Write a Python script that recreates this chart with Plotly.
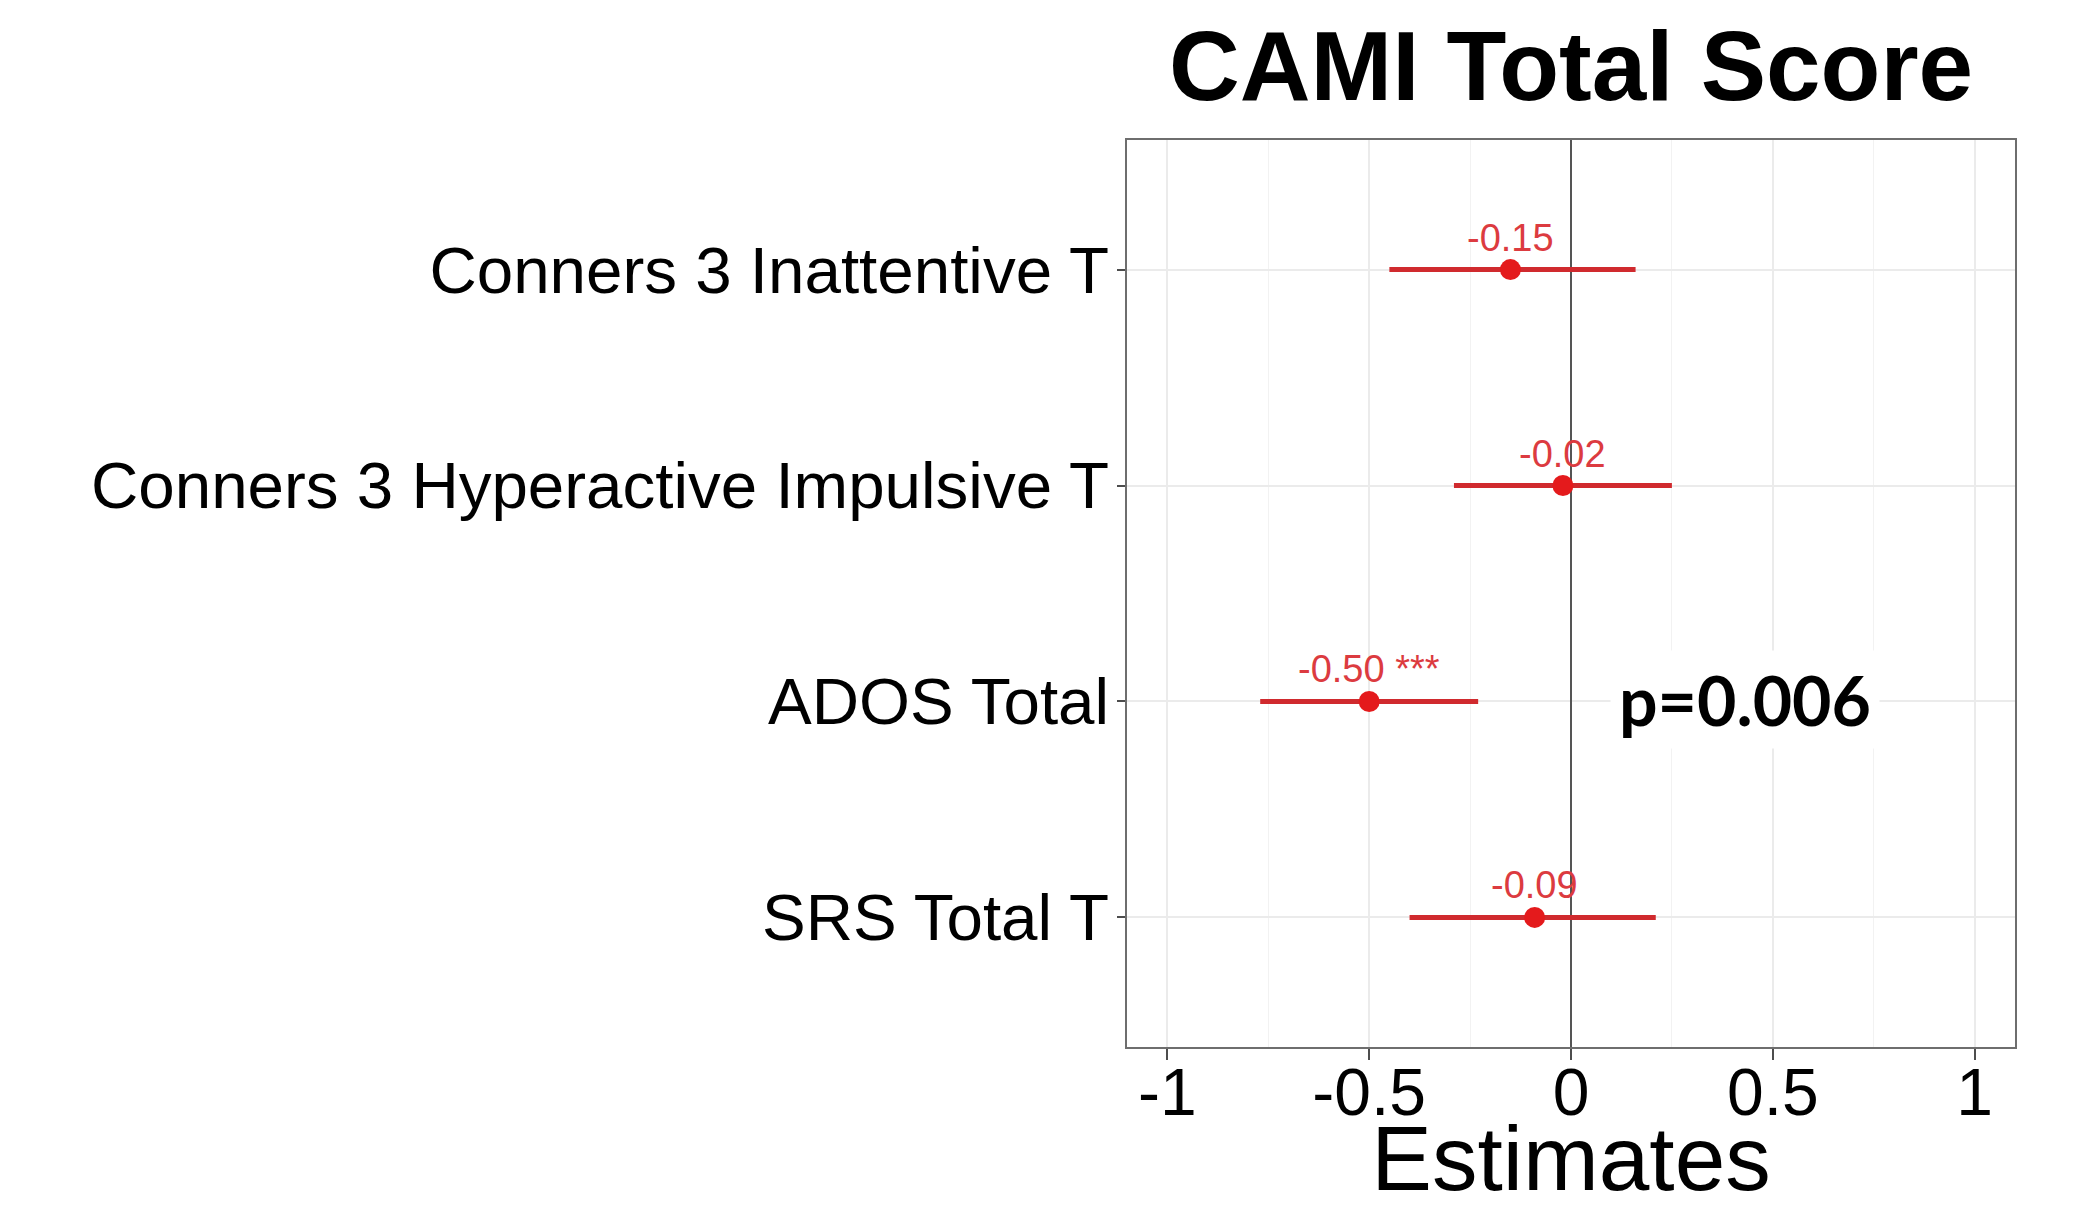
import plotly.graph_objects as go

# ---- data ----
categories = ["SRS Total T", "ADOS Total", "Conners 3 Hyperactive Impulsive T", "Conners 3 Inattentive T"]
estimates = [-0.09, -0.50, -0.02, -0.15]
ci_low = [-0.40, -0.77, -0.29, -0.45]
ci_high = [0.21, -0.23, 0.25, 0.16]
stars = ["", " ***", "", ""]
x_tickvals = [-1, -0.5, 0, 0.5, 1]
x_ticktext = ["-1", "-0.5", "0", "0.5", "1"]
title_text = "CAMI Total Score"
x_title = "Estimates"
p_text = "p=0.006"
p_category = "ADOS Total"
p_x = 0.43

# page body has an 8px margin; compensate so the plot lands where the reference has it
OFF = 8
W, H = 2084 - OFF, 1209 - OFF
RED_POINT = "#E41A1C"
RED_BAR = "#D02A2E"
RED_TEXT = "#DC3B40"
FONT = "Liberation Sans, Arial, Helvetica, sans-serif"

err_plus = [h - e for h, e in zip(ci_high, estimates)]
err_minus = [e - l for e, l in zip(estimates, ci_low)]

fig = go.Figure()
fig.add_trace(go.Scatter(
    x=estimates, y=categories, mode="markers",
    marker=dict(color=RED_POINT, size=21, line=dict(width=0)),
    error_x=dict(type="data", symmetric=False, array=err_plus, arrayminus=err_minus,
                 color=RED_BAR, thickness=5, width=0),
    showlegend=False, hoverinfo="x+y",
))

annotations = []
for cat, est, st in zip(categories, estimates, stars):
    annotations.append(dict(
        x=est, y=cat, xref="x", yref="y", text=f"{est:.2f}{st}", showarrow=False,
        yshift=32, font=dict(family=FONT, size=38, color=RED_TEXT),
        xanchor="center", yanchor="middle",
    ))
annotations.append(dict(
    x=p_x, y=p_category, xref="x", yref="y", text=p_text, showarrow=False,
    font=dict(family="Lato, Carlito, Noto Sans, sans-serif", size=68, color="black", weight=700),
    bgcolor="white", borderpad=8, xanchor="center", yanchor="middle", yshift=2,
))

fig.update_layout(
    width=W, height=H,
    margin=dict(l=1127 - OFF, r=69, t=140 - OFF, b=162, autoexpand=False),
    paper_bgcolor="white", plot_bgcolor="white",
    title=dict(text=title_text, x=0.5, xref="paper", y=1 - (66 - OFF) / H, yref="container",
               xanchor="center", yanchor="middle",
               font=dict(family=FONT, size=98, color="black", weight=700)),
    annotations=annotations,
    showlegend=False,
)

fig.update_xaxes(
    range=[-1.1, 1.1], automargin=False,
    tickmode="array", tickvals=x_tickvals, ticktext=x_ticktext,
    showgrid=True, gridcolor="#EBEBEB", gridwidth=1.5,
    minor=dict(dtick=0.25, tick0=0, showgrid=True, gridcolor="#F2F2F2", gridwidth=1.2, ticks=""),
    zeroline=True, zerolinecolor="#555555", zerolinewidth=1.8,
    showline=True, mirror=True, linecolor="#6E6E6E", linewidth=1.6,
    ticks="outside", ticklen=11, tickwidth=1.6, tickcolor="#4D4D4D",
    ticklabelstandoff=-24,
    tickfont=dict(family=FONT, size=66, color="black"),
    title=dict(text=x_title, font=dict(family=FONT, size=91, color="black"), standoff=24),
)
fig.update_yaxes(
    type="category", categoryorder="array", categoryarray=categories,
    range=[-0.6, 3.6], automargin=False,
    showgrid=True, gridcolor="#EBEBEB", gridwidth=1.5,
    zeroline=False,
    showline=True, mirror=True, linecolor="#6E6E6E", linewidth=1.6,
    ticks="outside", ticklen=8, tickwidth=1.6, tickcolor="#4D4D4D",
    ticklabelstandoff=-5,
    tickfont=dict(family=FONT, size=65.5, color="black"),
)

fig.write_html("out.html")
